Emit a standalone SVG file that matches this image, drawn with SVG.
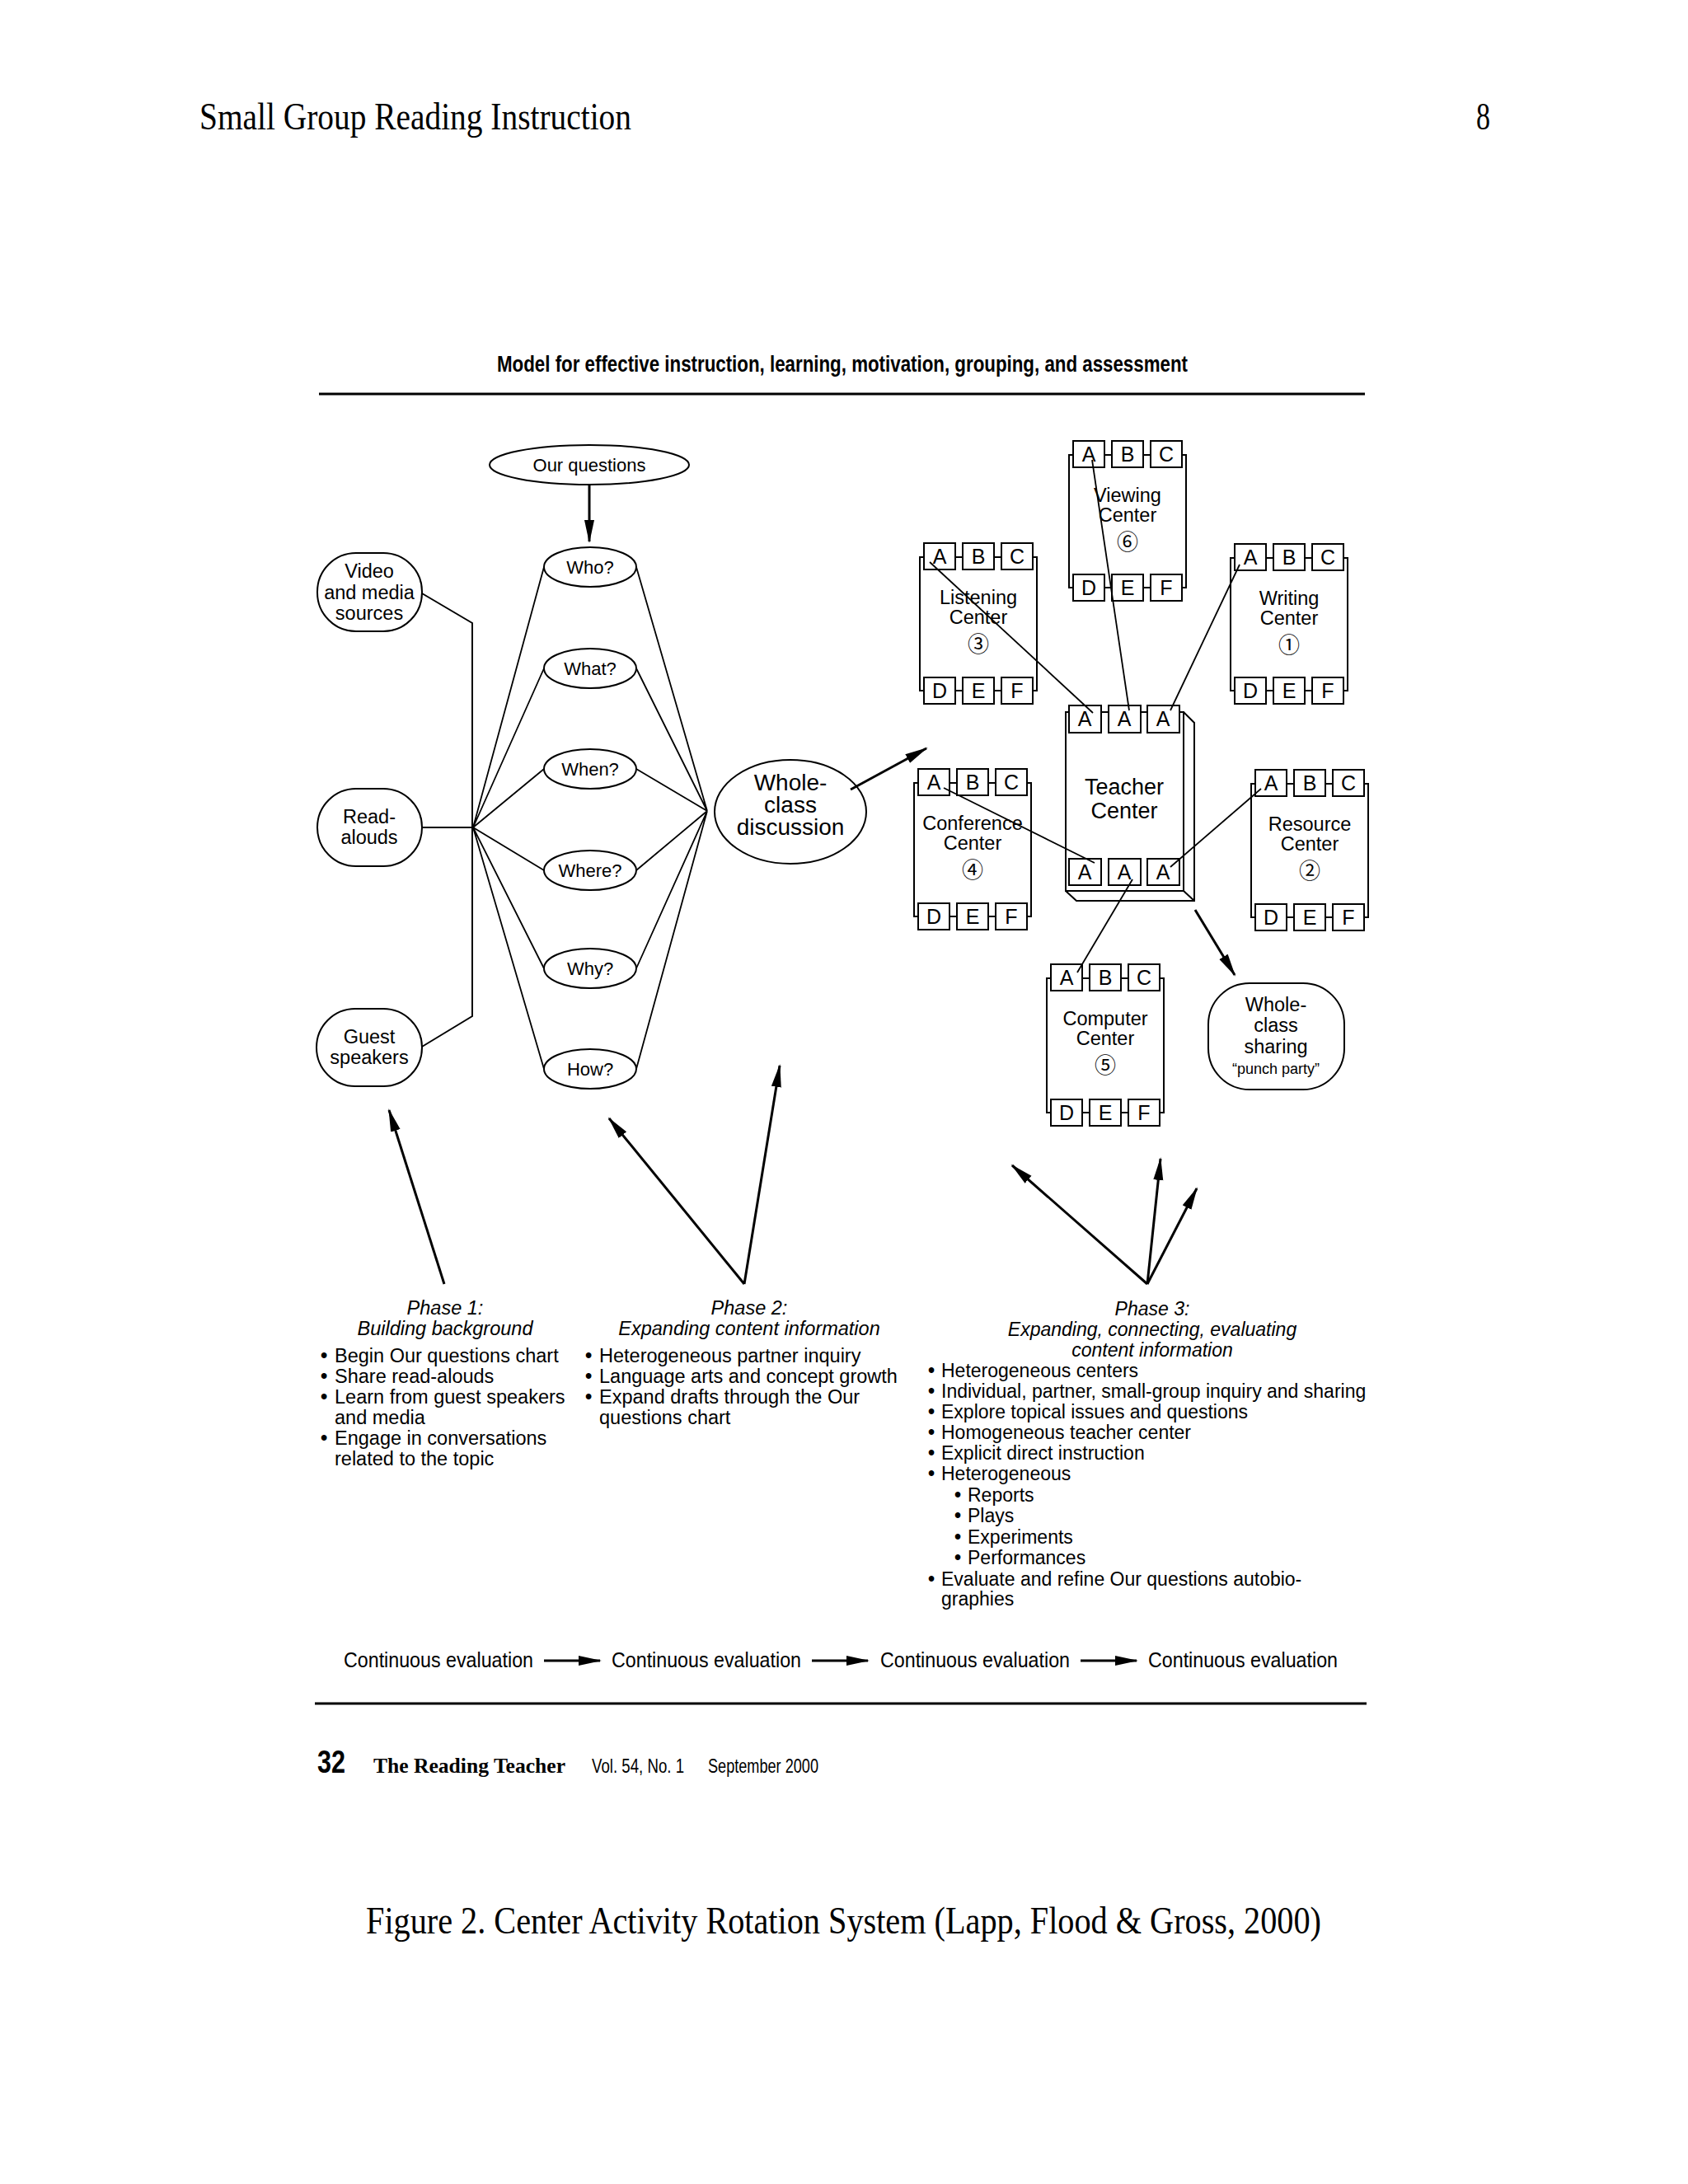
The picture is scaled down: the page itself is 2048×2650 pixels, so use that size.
<svg xmlns="http://www.w3.org/2000/svg" width="2048" height="2650" viewBox="0 0 2048 2650">
<defs>
<style>
.s{font-family:"Liberation Sans",Arial,sans-serif;fill:#000}
.serif{font-family:"Liberation Serif","Times New Roman",serif;fill:#000}
.ln{stroke:#000;stroke-width:2;fill:none}
.cn{stroke:#000;stroke-width:1.8;fill:none}
.ar{stroke:#000;stroke-width:3;fill:none;marker-end:url(#ah)}
.shape{fill:#fff;stroke:#000;stroke-width:2}
.bx{fill:#fff;stroke:#000;stroke-width:2}
.lt{font-size:25px;text-anchor:middle}
.lb{font-size:23.5px;text-anchor:middle}
.num{font-family:"Noto Sans CJK JP","DejaVu Sans",sans-serif;font-size:26px;text-anchor:middle;fill:#000}
.q{font-size:22px;text-anchor:middle}
.ph{font-size:23.5px}
.p3{font-size:23px}
.it{font-style:italic;text-anchor:middle}
.bu{font-weight:bold}
.rule{stroke:#000;stroke-width:3}
</style>
<marker id="ah" markerUnits="userSpaceOnUse" markerWidth="30" markerHeight="14" refX="26" refY="6" orient="auto"><path d="M0,0 L28,6 L0,12 Z" fill="#000"/></marker>
</defs>
<rect x="0" y="0" width="2048" height="2650" fill="#fff"/>

<g id="page-header">
<text class="serif" x="242" y="157" font-size="47" textLength="524" lengthAdjust="spacingAndGlyphs">Small Group Reading  Instruction</text>
<text class="serif" x="1791" y="157" font-size="47" textLength="17" lengthAdjust="spacingAndGlyphs">8</text>
</g>

<g id="title">
<text class="s" x="603" y="451" font-size="28" font-weight="bold" textLength="838" lengthAdjust="spacingAndGlyphs">Model for effective instruction, learning, motivation, grouping, and assessment</text>
<line class="rule" x1="387" y1="478" x2="1656" y2="478"/>
</g>

<g id="video-node">
<rect class="shape" x="385" y="671" width="127" height="95" rx="47" ry="47"/>
<text class="s lb" x="448" y="701">Video</text>
<text class="s lb" x="448" y="727">and media</text>
<text class="s lb" x="448" y="752">sources</text>
</g>
<g id="readalouds-node">
<rect class="shape" x="385" y="957" width="127" height="94" rx="47" ry="47"/>
<text class="s lb" x="448" y="999">Read-</text>
<text class="s lb" x="448" y="1024">alouds</text>
</g>
<g id="guest-node">
<rect class="shape" x="384" y="1224" width="128" height="94" rx="47" ry="47"/>
<text class="s lb" x="448" y="1266">Guest</text>
<text class="s lb" x="448" y="1291">speakers</text>
</g>

<g id="our-questions">
<ellipse class="shape" cx="715" cy="564" rx="121" ry="24"/>
<text class="s q" x="715" y="572">Our questions</text>
</g>
<g id="who"><ellipse class="shape" cx="716" cy="688" rx="56" ry="24"/><text class="s q" x="716" y="696">Who?</text></g>
<g id="what"><ellipse class="shape" cx="716" cy="811" rx="56" ry="24"/><text class="s q" x="716" y="819">What?</text></g>
<g id="when"><ellipse class="shape" cx="716" cy="933" rx="56" ry="24"/><text class="s q" x="716" y="941">When?</text></g>
<g id="where"><ellipse class="shape" cx="716" cy="1056" rx="56" ry="24"/><text class="s q" x="716" y="1064">Where?</text></g>
<g id="why"><ellipse class="shape" cx="716" cy="1175" rx="56" ry="24"/><text class="s q" x="716" y="1183">Why?</text></g>
<g id="how"><ellipse class="shape" cx="716" cy="1297" rx="56" ry="24"/><text class="s q" x="716" y="1305">How?</text></g>

<g id="whole-class-discussion">
<ellipse class="shape" cx="959" cy="985" rx="92" ry="63"/>
<text class="s" x="959" y="959" font-size="28" text-anchor="middle">Whole-</text>
<text class="s" x="959" y="986" font-size="28" text-anchor="middle">class</text>
<text class="s" x="959" y="1013" font-size="28" text-anchor="middle">discussion</text>
</g>

<g id="viewing-center" transform="translate(1297,552)">
<rect class="shape" x="0" y="0" width="142" height="161"/>
<rect class="bx" x="5" y="-17" width="38" height="32"/><rect class="bx" x="52" y="-17" width="38" height="32"/><rect class="bx" x="99" y="-17" width="38" height="32"/>
<rect class="bx" x="5" y="145" width="38" height="32"/><rect class="bx" x="52" y="145" width="38" height="32"/><rect class="bx" x="99" y="145" width="38" height="32"/>
<text class="s lt" x="24" y="8">A</text><text class="s lt" x="71" y="8">B</text><text class="s lt" x="118" y="8">C</text>
<text class="s lt" x="24" y="170">D</text><text class="s lt" x="71" y="170">E</text><text class="s lt" x="118" y="170">F</text>
<text class="s lb" x="71" y="57">Viewing</text><text class="s lb" x="71" y="81">Center</text><text class="num" x="71" y="115">⑥</text>
</g>

<g id="listening-center" transform="translate(1116,676)">
<rect class="shape" x="0" y="0" width="142" height="162"/>
<rect class="bx" x="5" y="-17" width="38" height="32"/><rect class="bx" x="52" y="-17" width="38" height="32"/><rect class="bx" x="99" y="-17" width="38" height="32"/>
<rect class="bx" x="5" y="146" width="38" height="32"/><rect class="bx" x="52" y="146" width="38" height="32"/><rect class="bx" x="99" y="146" width="38" height="32"/>
<text class="s lt" x="24" y="8">A</text><text class="s lt" x="71" y="8">B</text><text class="s lt" x="118" y="8">C</text>
<text class="s lt" x="24" y="171">D</text><text class="s lt" x="71" y="171">E</text><text class="s lt" x="118" y="171">F</text>
<text class="s lb" x="71" y="57">Listening</text><text class="s lb" x="71" y="81">Center</text><text class="num" x="71" y="115">③</text>
</g>

<g id="writing-center" transform="translate(1493,677)">
<rect class="shape" x="0" y="0" width="142" height="161"/>
<rect class="bx" x="5" y="-17" width="38" height="32"/><rect class="bx" x="52" y="-17" width="38" height="32"/><rect class="bx" x="99" y="-17" width="38" height="32"/>
<rect class="bx" x="5" y="145" width="38" height="32"/><rect class="bx" x="52" y="145" width="38" height="32"/><rect class="bx" x="99" y="145" width="38" height="32"/>
<text class="s lt" x="24" y="8">A</text><text class="s lt" x="71" y="8">B</text><text class="s lt" x="118" y="8">C</text>
<text class="s lt" x="24" y="170">D</text><text class="s lt" x="71" y="170">E</text><text class="s lt" x="118" y="170">F</text>
<text class="s lb" x="71" y="57">Writing</text><text class="s lb" x="71" y="81">Center</text><text class="num" x="71" y="115">①</text>
</g>

<g id="conference-center" transform="translate(1109,950)">
<rect class="shape" x="0" y="0" width="142" height="162"/>
<rect class="bx" x="5" y="-17" width="38" height="32"/><rect class="bx" x="52" y="-17" width="38" height="32"/><rect class="bx" x="99" y="-17" width="38" height="32"/>
<rect class="bx" x="5" y="146" width="38" height="32"/><rect class="bx" x="52" y="146" width="38" height="32"/><rect class="bx" x="99" y="146" width="38" height="32"/>
<text class="s lt" x="24" y="8">A</text><text class="s lt" x="71" y="8">B</text><text class="s lt" x="118" y="8">C</text>
<text class="s lt" x="24" y="171">D</text><text class="s lt" x="71" y="171">E</text><text class="s lt" x="118" y="171">F</text>
<text class="s lb" x="71" y="57">Conference</text><text class="s lb" x="71" y="81">Center</text><text class="num" x="71" y="115">④</text>
</g>

<g id="resource-center" transform="translate(1518,951)">
<rect class="shape" x="0" y="0" width="142" height="162"/>
<rect class="bx" x="5" y="-17" width="38" height="32"/><rect class="bx" x="52" y="-17" width="38" height="32"/><rect class="bx" x="99" y="-17" width="38" height="32"/>
<rect class="bx" x="5" y="146" width="38" height="32"/><rect class="bx" x="52" y="146" width="38" height="32"/><rect class="bx" x="99" y="146" width="38" height="32"/>
<text class="s lt" x="24" y="8">A</text><text class="s lt" x="71" y="8">B</text><text class="s lt" x="118" y="8">C</text>
<text class="s lt" x="24" y="171">D</text><text class="s lt" x="71" y="171">E</text><text class="s lt" x="118" y="171">F</text>
<text class="s lb" x="71" y="57">Resource</text><text class="s lb" x="71" y="81">Center</text><text class="num" x="71" y="115">②</text>
</g>

<g id="computer-center" transform="translate(1270,1187)">
<rect class="shape" x="0" y="0" width="142" height="163"/>
<rect class="bx" x="5" y="-17" width="38" height="32"/><rect class="bx" x="52" y="-17" width="38" height="32"/><rect class="bx" x="99" y="-17" width="38" height="32"/>
<rect class="bx" x="5" y="147" width="38" height="32"/><rect class="bx" x="52" y="147" width="38" height="32"/><rect class="bx" x="99" y="147" width="38" height="32"/>
<text class="s lt" x="24" y="8">A</text><text class="s lt" x="71" y="8">B</text><text class="s lt" x="118" y="8">C</text>
<text class="s lt" x="24" y="172">D</text><text class="s lt" x="71" y="172">E</text><text class="s lt" x="118" y="172">F</text>
<text class="s lb" x="71" y="57">Computer</text><text class="s lb" x="71" y="81">Center</text><text class="num" x="71" y="115">⑤</text>
</g>

<g id="teacher-center">
<path class="shape" d="M1293,864 L1436,864 L1449,877 L1449,1093 L1306,1093 L1293,1081 Z"/>
<rect class="shape" x="1293" y="864" width="143" height="217"/>
<line class="ln" x1="1436" y1="1081" x2="1449" y2="1093"/>
<rect class="bx" x="1297" y="856" width="39" height="33"/><rect class="bx" x="1345" y="856" width="39" height="33"/><rect class="bx" x="1392" y="856" width="39" height="33"/>
<rect class="bx" x="1297" y="1042" width="39" height="32"/><rect class="bx" x="1345" y="1042" width="39" height="32"/><rect class="bx" x="1392" y="1042" width="39" height="32"/>
<text class="s lt" x="1316" y="881">A</text><text class="s lt" x="1364" y="881">A</text><text class="s lt" x="1411" y="881">A</text>
<text class="s lt" x="1316" y="1067">A</text><text class="s lt" x="1364" y="1067">A</text><text class="s lt" x="1411" y="1067">A</text>
<text class="s" x="1364" y="964" font-size="27" text-anchor="middle">Teacher</text>
<text class="s" x="1364" y="993" font-size="27" text-anchor="middle">Center</text>
</g>

<g id="whole-class-sharing">
<rect class="shape" x="1466" y="1193" width="165" height="129" rx="50" ry="50"/>
<text class="s lb" x="1548" y="1227">Whole-</text>
<text class="s lb" x="1548" y="1252">class</text>
<text class="s lb" x="1548" y="1278">sharing</text>
<text class="s" x="1548" y="1303" font-size="18" text-anchor="middle">“punch party”</text>
</g>

<g id="connectors">
<path class="ln" d="M512,720 L573,756 L573,1233 L512,1270"/>
<path class="ln" d="M512,1004 L574,1004"/>
<path class="cn" d="M574,1004 L660,688 M574,1004 L660,811 M574,1004 L660,933 M574,1004 L660,1056 M574,1004 L660,1175 M574,1004 L660,1297"/>
<path class="cn" d="M772,688 L858,984 M772,811 L858,984 M772,933 L858,984 M772,1056 L858,984 M772,1175 L858,984 M772,1297 L858,984"/>
<path class="ar" d="M715,589 L715,657"/>
<path class="ar" d="M1032,958 L1124,908"/>
<path class="cn" d="M1128,682 L1326,865"/>
<path class="cn" d="M1325,558 L1370,862"/>
<path class="cn" d="M1504,685 L1420,862"/>
<path class="cn" d="M1145,956 L1328,1047"/>
<path class="cn" d="M1530,957 L1420,1052"/>
<path class="cn" d="M1307,1180 L1374,1067"/>
<path class="ar" d="M1450,1104 L1498,1183"/>
<path class="ar" d="M539,1558 L472,1347"/>
<path class="ar" d="M903,1558 L739,1357"/>
<path class="ar" d="M903,1558 L946,1293"/>
<path class="ar" d="M1392,1558 L1228,1414"/>
<path class="ar" d="M1392,1558 L1408,1406"/>
<path class="ar" d="M1392,1558 L1452,1442"/>
</g>

<g id="phase1-text" class="s ph">
<text class="it" x="540" y="1595">Phase 1:</text>
<text class="it" x="540" y="1620">Building background</text>
<text y="1653"><tspan class="bu" x="389">•</tspan><tspan x="406">Begin Our questions chart</tspan></text>
<text y="1678"><tspan class="bu" x="389">•</tspan><tspan x="406">Share read-alouds</tspan></text>
<text y="1703"><tspan class="bu" x="389">•</tspan><tspan x="406">Learn from guest speakers</tspan></text>
<text x="406" y="1728">and media</text>
<text y="1753"><tspan class="bu" x="389">•</tspan><tspan x="406">Engage in conversations</tspan></text>
<text x="406" y="1778">related to the topic</text>
</g>

<g id="phase2-text" class="s ph">
<text class="it" x="909" y="1595">Phase 2:</text>
<text class="it" x="909" y="1620">Expanding content information</text>
<text y="1653"><tspan class="bu" x="710">•</tspan><tspan x="727">Heterogeneous partner inquiry</tspan></text>
<text y="1678"><tspan class="bu" x="710">•</tspan><tspan x="727">Language arts and concept growth</tspan></text>
<text y="1703"><tspan class="bu" x="710">•</tspan><tspan x="727">Expand drafts through the Our</tspan></text>
<text x="727" y="1728">questions chart</text>
</g>

<g id="phase3-text" class="s p3">
<text class="it" x="1398" y="1596">Phase 3:</text>
<text class="it" x="1398" y="1621">Expanding, connecting, evaluating</text>
<text class="it" x="1398" y="1646">content information</text>
<text y="1671"><tspan class="bu" x="1126">•</tspan><tspan x="1142">Heterogeneous centers</tspan></text>
<text y="1696"><tspan class="bu" x="1126">•</tspan><tspan x="1142">Individual, partner, small-group inquiry and sharing</tspan></text>
<text y="1721"><tspan class="bu" x="1126">•</tspan><tspan x="1142">Explore topical issues and questions</tspan></text>
<text y="1746"><tspan class="bu" x="1126">•</tspan><tspan x="1142">Homogeneous teacher center</tspan></text>
<text y="1771"><tspan class="bu" x="1126">•</tspan><tspan x="1142">Explicit direct instruction</tspan></text>
<text y="1796"><tspan class="bu" x="1126">•</tspan><tspan x="1142">Heterogeneous</tspan></text>
<text y="1822"><tspan class="bu" x="1158">•</tspan><tspan x="1174">Reports</tspan></text>
<text y="1847"><tspan class="bu" x="1158">•</tspan><tspan x="1174">Plays</tspan></text>
<text y="1873"><tspan class="bu" x="1158">•</tspan><tspan x="1174">Experiments</tspan></text>
<text y="1898"><tspan class="bu" x="1158">•</tspan><tspan x="1174">Performances</tspan></text>
<text y="1924"><tspan class="bu" x="1126">•</tspan><tspan x="1142">Evaluate and refine Our questions autobio-</tspan></text>
<text x="1142" y="1948">graphies</text>
</g>

<g id="continuous-evaluation" class="s">
<text x="417" y="2023" font-size="25" textLength="230" lengthAdjust="spacingAndGlyphs">Continuous evaluation</text>
<text x="742" y="2023" font-size="25" textLength="230" lengthAdjust="spacingAndGlyphs">Continuous evaluation</text>
<text x="1068" y="2023" font-size="25" textLength="230" lengthAdjust="spacingAndGlyphs">Continuous evaluation</text>
<text x="1393" y="2023" font-size="25" textLength="230" lengthAdjust="spacingAndGlyphs">Continuous evaluation</text>
<path class="ar" d="M660,2015 L728,2015"/>
<path class="ar" d="M985,2015 L1053,2015"/>
<path class="ar" d="M1311,2015 L1379,2015"/>
<line class="rule" x1="382" y1="2067" x2="1658" y2="2067"/>
</g>

<g id="footer">
<text class="s" x="385" y="2151" font-size="38" font-weight="bold" textLength="34" lengthAdjust="spacingAndGlyphs">32</text>
<text class="serif" x="453" y="2151" font-size="26" font-weight="bold" textLength="233" lengthAdjust="spacingAndGlyphs">The Reading Teacher</text>
<text class="s" x="718" y="2151" font-size="24" textLength="112" lengthAdjust="spacingAndGlyphs">Vol. 54, No. 1</text>
<text class="s" x="859" y="2151" font-size="24" textLength="134" lengthAdjust="spacingAndGlyphs">September 2000</text>
</g>

<g id="caption">
<text class="serif" x="444" y="2346" font-size="46" textLength="1159" lengthAdjust="spacingAndGlyphs">Figure  2. Center Activity  Rotation  System (Lapp, Flood &amp; Gross, 2000)</text>
</g>
</svg>
